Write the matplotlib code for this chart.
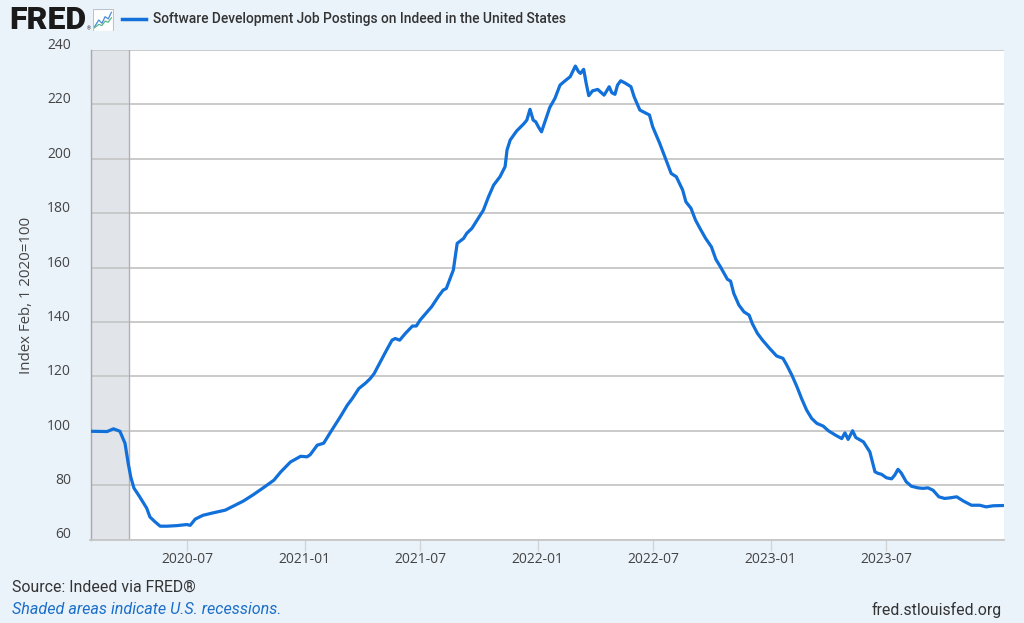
import matplotlib
matplotlib.use('Agg')
import matplotlib.pyplot as plt
from matplotlib.transforms import ScaledTranslation
from matplotlib.lines import Line2D
from matplotlib.patches import Rectangle
import pandas as pd

# ---------------- data ----------------
dates = [
    '2020-02-01', '2020-02-27', '2020-03-08', '2020-03-18', '2020-03-26', '2020-03-31',
    '2020-04-04', '2020-04-09', '2020-04-18', '2020-04-29', '2020-05-04', '2020-05-12',
    '2020-05-20', '2020-05-31', '2020-06-15', '2020-07-01', '2020-07-06', '2020-07-14',
    '2020-07-26', '2020-08-11', '2020-08-30', '2020-09-11', '2020-09-27', '2020-10-13',
    '2020-10-29', '2020-11-14', '2020-11-25', '2020-12-10', '2020-12-26', '2021-01-05',
    '2021-01-10', '2021-01-21', '2021-01-31', '2021-02-10', '2021-02-26', '2021-03-09',
    '2021-03-17', '2021-03-27', '2021-04-07', '2021-04-14', '2021-04-20', '2021-04-27',
    '2021-05-08', '2021-05-18', '2021-05-23', '2021-05-30', '2021-06-08', '2021-06-19',
    '2021-06-25', '2021-07-01', '2021-07-12', '2021-07-19', '2021-07-30', '2021-08-06',
    '2021-08-11', '2021-08-17', '2021-08-22', '2021-08-25', '2021-08-28', '2021-09-02',
    '2021-09-07', '2021-09-12', '2021-09-20', '2021-09-30', '2021-10-08', '2021-10-16',
    '2021-10-24', '2021-11-03', '2021-11-11', '2021-11-14', '2021-11-19', '2021-11-29',
    '2021-12-10', '2021-12-15', '2021-12-20', '2021-12-25', '2021-12-29', '2022-01-02',
    '2022-01-07', '2022-01-15', '2022-01-20', '2022-01-28', '2022-02-05', '2022-02-13',
    '2022-02-21', '2022-03-01', '2022-03-06', '2022-03-09', '2022-03-14', '2022-03-18',
    '2022-03-22', '2022-03-28', '2022-04-05', '2022-04-15', '2022-04-23', '2022-04-27',
    '2022-05-02', '2022-05-06', '2022-05-11', '2022-05-19', '2022-05-27', '2022-06-01',
    '2022-06-10', '2022-06-20', '2022-06-25', '2022-06-30', '2022-07-11', '2022-07-21',
    '2022-07-29', '2022-08-06', '2022-08-16', '2022-08-21', '2022-08-29', '2022-09-05',
    '2022-09-13', '2022-09-21', '2022-09-30', '2022-10-07', '2022-10-14', '2022-10-20',
    '2022-10-25', '2022-10-30', '2022-11-04', '2022-11-12', '2022-11-20', '2022-11-28',
    '2022-12-03', '2022-12-11', '2022-12-19', '2022-12-30', '2023-01-10', '2023-01-20',
    '2023-01-26', '2023-02-03', '2023-02-11', '2023-02-18', '2023-02-26', '2023-03-06',
    '2023-03-14', '2023-03-24', '2023-04-01', '2023-04-12', '2023-04-22', '2023-04-27',
    '2023-05-02', '2023-05-09', '2023-05-14', '2023-05-26', '2023-06-05', '2023-06-13',
    '2023-06-18', '2023-06-23', '2023-07-01', '2023-07-09', '2023-07-14', '2023-07-19',
    '2023-07-24', '2023-08-01', '2023-08-09', '2023-08-19', '2023-08-27', '2023-09-04',
    '2023-09-12', '2023-09-21', '2023-09-30', '2023-10-08', '2023-10-19', '2023-10-29',
    '2023-11-11', '2023-11-24', '2023-12-04', '2023-12-15', '2023-12-31',
]
values = [
    99.8, 99.7, 100.7, 99.8, 95.4, 88.0,
    83.0, 78.9, 75.7, 71.5, 68.3, 66.5,
    64.9, 64.9, 65.1, 65.5, 65.2, 67.5,
    68.9, 69.8, 70.8, 72.2, 74.1, 76.5,
    79.1, 81.8, 84.9, 88.5, 90.6, 90.4,
    91.2, 94.7, 95.4, 99.2, 105.1, 109.4,
    111.9, 115.5, 117.6, 119.2, 121.0, 124.1,
    129.0, 133.3, 133.9, 133.3, 135.8, 138.5,
    138.5, 140.7, 143.7, 145.6, 149.5, 151.7,
    152.3, 156.0, 159.1, 164.0, 168.9, 169.8,
    170.7, 172.6, 174.4, 178.1, 181.1, 186.0,
    190.3, 193.4, 197.1, 203.2, 206.9, 210.2,
    212.8, 214.2, 218.2, 214.2, 213.6, 211.8,
    209.9, 215.5, 218.9, 222.2, 227.1, 228.7,
    230.2, 234.1, 232.0, 231.4, 232.9, 227.7,
    223.2, 225.0, 225.5, 223.4, 226.5, 224.3,
    223.7, 227.1, 228.7, 227.7, 226.5, 222.8,
    217.9, 216.7, 216.1, 211.8, 205.7, 199.5,
    194.6, 193.4, 188.5, 184.2, 181.8, 177.5,
    174.0, 170.7, 167.6, 163.0, 160.3, 157.8,
    155.7, 155.0, 150.5, 146.2, 143.7, 142.5,
    139.4, 135.8, 133.3, 130.3, 127.5, 126.6,
    124.1, 120.4, 116.1, 111.9, 107.6, 104.5,
    102.7, 101.7, 100.0, 98.4, 97.1, 99.2,
    96.8, 100.0, 97.5, 95.9, 92.2, 84.9,
    84.3, 84.0, 82.7, 82.3, 83.7, 85.8,
    84.5, 81.2, 79.6, 79.0, 78.8, 79.0,
    78.1, 75.7, 75.1, 75.3, 75.7, 74.2,
    72.6, 72.6, 72.0, 72.4, 72.5,
]
recession_start = '2020-02-01'
recession_end = '2020-04-01'
x_start = '2020-02-01'
x_end = '2024-01-01'
y_ticks = [60, 80, 100, 120, 140, 160, 180, 200, 220, 240]
x_ticks = ['2020-07-01', '2021-01-01', '2021-07-01', '2022-01-01',
           '2022-07-01', '2023-01-01', '2023-07-01']
x_tick_labels = ['2020-07', '2021-01', '2021-07', '2022-01',
                 '2022-07', '2023-01', '2023-07']
title = 'Software Development Job Postings on Indeed in the United States'
y_label = 'Index Feb, 1 2020=100'

# small FRED icon strokes (decoration)
icon_x = [0.1, 0.3, 0.45, 0.6, 0.75, 0.9]
icon_blue = [0.2, 0.5, 0.35, 0.65, 0.55, 0.85]
icon_green = [0.15, 0.3, 0.25, 0.45, 0.4, 0.6]

# ---------------- style ----------------
BG = '#eaf2fa'
LINE = '#1170d9'
GRID = '#c6c6c6'
TXT = '#444444'
TICKFONT = ['Open Sans', 'DejaVu Sans']

plt.rcParams['font.family'] = ['Roboto', 'DejaVu Sans']

W, H = 1024, 623
fig = plt.figure(figsize=(W / 100, H / 100), dpi=100)
fig.patch.set_facecolor(BG)

left, right, top, bottom = 90.5, 1004, 50, 539.5
ax = fig.add_axes([left / W, 1 - bottom / H, (right - left) / W, (bottom - top) / H])
ax.set_facecolor('white')

x = pd.to_datetime(dates)
ax.axvspan(pd.Timestamp(recession_start), pd.Timestamp(recession_end),
           color='#e1e5ea', zorder=0, lw=0)
ax.axvline(pd.Timestamp(recession_end), color='#b0b0b0', lw=1.0, zorder=1)
ax.plot(x, values, color=LINE, lw=2.3, solid_joinstyle='round',
        solid_capstyle='round', zorder=3)

ax.set_xlim(pd.Timestamp(x_start), pd.Timestamp(x_end))
ax.set_ylim(y_ticks[0], y_ticks[-1])

ax.set_yticks(y_ticks)
ax.set_yticklabels([str(v) for v in y_ticks], family=TICKFONT)
ax.set_xticks(pd.to_datetime(x_ticks))
ax.set_xticklabels(x_tick_labels, family=TICKFONT)

ax.yaxis.grid(True, color=GRID, lw=1.3, zorder=1)
ax.set_axisbelow(True)
for s in ['top', 'right']:
    ax.spines[s].set_visible(False)
ax.spines['left'].set_color('#a8a8a8')
ax.spines['bottom'].set_color('#c6c6c6')
ax.spines['left'].set_linewidth(1.0)
ax.spines['bottom'].set_linewidth(1.3)

ax.tick_params(axis='y', length=0, pad=14, labelsize=10, labelcolor=TXT)
ax.tick_params(axis='x', length=8, width=1, color='#d4d4d4', pad=1,
               labelsize=10, labelcolor=TXT)
for lab in ax.get_yticklabels():
    lab.set_transform(lab.get_transform() + ScaledTranslation(0, 0.065, fig.dpi_scale_trans))

fig.text(27 / W, 1 - 295 / H, y_label, rotation=90, ha='center', va='center',
         fontsize=10.8, color=TXT, family=TICKFONT)

# header
fig.text(9 / W, 1 - 20 / H, 'FRED', fontsize=23, fontweight='heavy', color='#1a1a1a',
         ha='left', va='center')
fig.text(86.5 / W, 1 - 29 / H, '®', fontsize=3.5, color='#1a1a1a', ha='left', va='center')
iax = fig.add_axes([92.5 / W, 1 - 31 / H, 21 / W, 22 / H])
iax.set_xlim(0, 1)
iax.set_ylim(0, 1)
iax.add_patch(Rectangle((0.02, 0.02), 0.96, 0.96, facecolor='white',
                        edgecolor='#b8c4d0', lw=0.8))
iax.plot(icon_x, icon_blue, color='#4a8bd6', lw=0.9)
iax.plot(icon_x, icon_green, color='#5cb88a', lw=0.9)
iax.axis('off')
fig.add_artist(Line2D([122 / W, 146 / W], [1 - 19 / H, 1 - 19 / H], color=LINE, lw=2.5))
fig.text(153 / W, 1 - 19 / H, title, fontsize=9.9, fontweight='medium', color='#333333',
         ha='left', va='center')

# footer
fig.text(12 / W, 1 - 587 / H, 'Source: Indeed via FRED®', fontsize=11.4, color='#333333',
         ha='left', va='center')
fig.text(12 / W, 1 - 610 / H, 'Shaded areas indicate U.S. recessions.', fontsize=11.6,
         color='#1b6fc8', style='italic', ha='left', va='center')
fig.text(1002 / W, 1 - 610 / H, 'fred.stlouisfed.org', fontsize=11.4, color='#333333',
         ha='right', va='center')

fig.savefig('out.png', dpi=100, facecolor=BG)
